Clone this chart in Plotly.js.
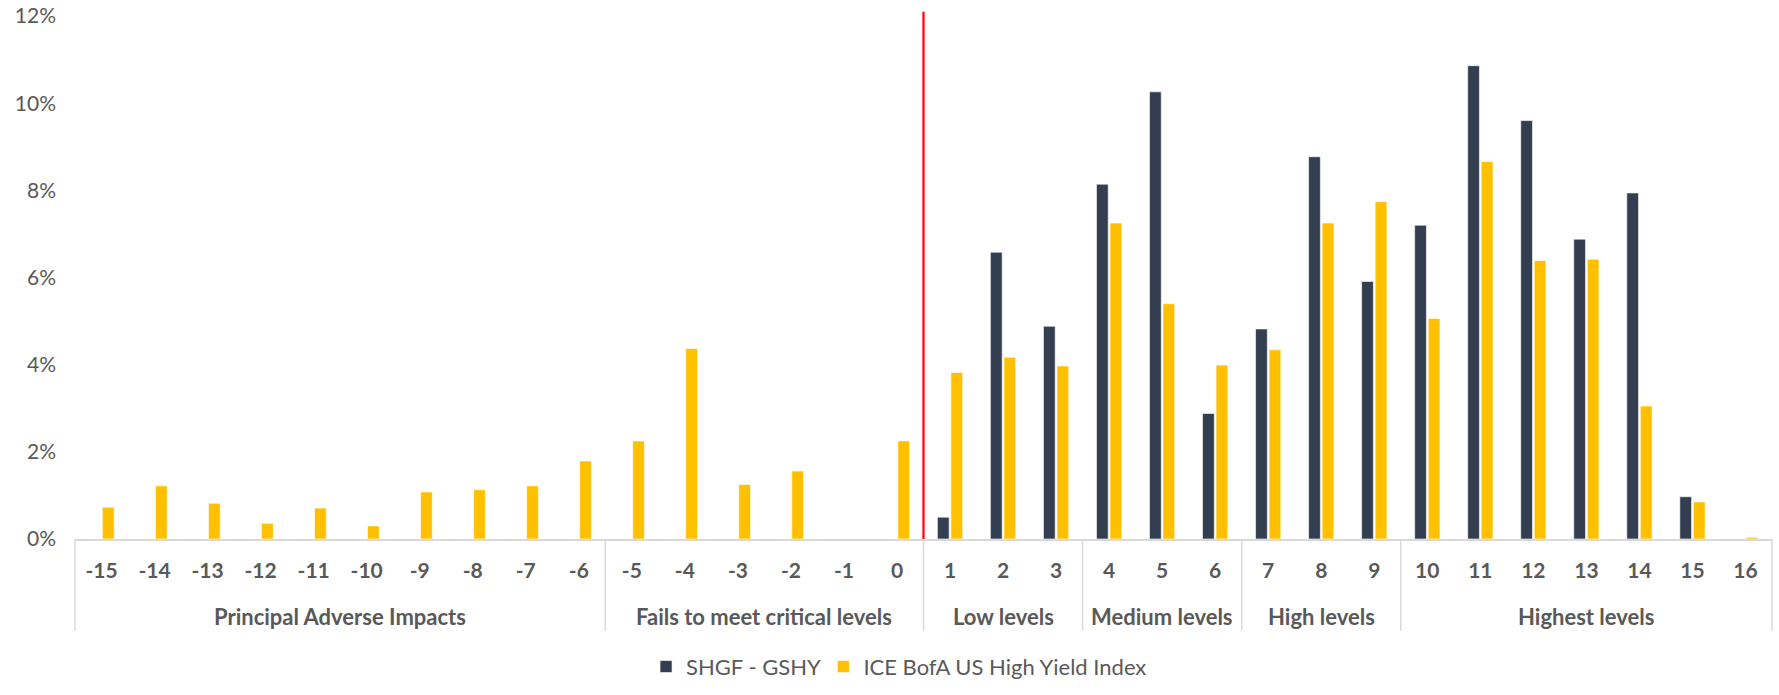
<!DOCTYPE html>
<html>
<head>
<meta charset="utf-8">
<script src="https://cdn.plot.ly/plotly-3.0.1.min.js"></script>
<style>
  html, body { margin: 0; padding: 0; background: #ffffff; }
  #chart { width: 1779px; height: 695px; }
</style>
</head>
<body>
<div id="chart"></div>
<script>
// Category labels (score levels)
const categories = ['-15','-14','-13','-12','-11','-10','-9','-8','-7','-6',
                    '-5','-4','-3','-2','-1','0',
                    '1','2','3','4','5','6','7','8','9',
                    '10','11','12','13','14','15','16'];

// Group labels and how many categories each spans
const groupNames = ['Principal Adverse Impacts', 'Fails to meet critical levels',
                    'Low levels', 'Medium levels', 'High levels', 'Highest levels'];
const groupSizes = [10, 6, 3, 3, 3, 7];

// Series values (%)
const shgfGshy = [null, null, null, null, null, null, null, null, null, null,
                  null, null, null, null, null, null,
                  0.50, 6.58, 4.88, 8.14, 10.26, 2.88, 4.82, 8.77, 5.91,
                  7.20, 10.86, 9.60, 6.88, 7.94, 0.97, null];
const iceBofa  = [0.73, 1.22, 0.82, 0.36, 0.71, 0.30, 1.08, 1.13, 1.22, 1.79,
                  2.25, 4.37, 1.25, 1.56, null, 2.25,
                  3.82, 4.17, 3.97, 7.25, 5.40, 3.99, 4.34, 7.25, 7.74,
                  5.06, 8.66, 6.39, 6.42, 3.05, 0.85, 0.04];

const seriesNames = ['SHGF - GSHY', 'ICE BofA US High Yield Index'];
const yTicks = [0, 2, 4, 6, 8, 10, 12];
const thresholdCategory = '1';

const FONT = 'Lato, "Open Sans", sans-serif';
const TXT = '#595959';
const AXIS_GREY = '#d9d9d9';

const traces = [
  {
    type: 'bar', name: seriesNames[0], legend: 'legend',
    x: categories, y: shgfGshy,
    marker: { color: '#333f50', line: { color: 'rgba(255,255,255,0.8)', width: 0.75 } },
    hoverinfo: 'y'
  },
  {
    type: 'bar', name: seriesNames[1], legend: 'legend2',
    x: categories, y: iceBofa,
    marker: { color: '#ffc000', line: { color: 'rgba(255,255,255,0.8)', width: 0.75 } },
    hoverinfo: 'y'
  }
];

// Group boundaries, label positions (in category index units) and dividers
const annotations = [];
const shapes = [];
const nCat = categories.length;
const dividerBottom = -0.1754;
const groupLabelY = -0.1475;
let start = 0;
shapes.push({
  type: 'line', xref: 'paper', yref: 'paper', x0: 0, x1: 0, y0: 0, y1: dividerBottom,
  line: { color: AXIS_GREY, width: 1.5 }
});
groupNames.forEach((g, i) => {
  const end = start + groupSizes[i];
  annotations.push({
    xref: 'x', yref: 'paper', x: start + (groupSizes[i] - 1) / 2, y: groupLabelY,
    xanchor: 'center', yanchor: 'middle', showarrow: false, text: g,
    font: { family: FONT, size: 22, color: TXT, weight: 'bold' }
  });
  shapes.push({
    type: 'line', xref: 'paper', yref: 'paper', x0: end / nCat, x1: end / nCat,
    y0: 0, y1: dividerBottom, line: { color: AXIS_GREY, width: 1.5 }
  });
  start = end;
});

const thresholdPos = categories.indexOf(thresholdCategory) - 0.5;
shapes.push({
  type: 'line', xref: 'x', yref: 'paper',
  x0: thresholdPos, x1: thresholdPos, y0: 0, y1: 1.008,
  line: { color: '#ff0000', width: 2.2 }
});

const legendStyle = {
  orientation: 'h', xanchor: 'left', y: -0.2443, yanchor: 'middle',
  font: { family: FONT, size: 22, color: TXT }, bgcolor: 'rgba(0,0,0,0)'
};

const layout = {
  width: 1779, height: 695,
  paper_bgcolor: '#ffffff', plot_bgcolor: '#ffffff',
  margin: { l: 75, r: 7, t: 16, b: 142 },
  font: { family: FONT, color: TXT, size: 20 },
  barmode: 'group',
  bargap: 0.49,
  bargroupgap: 0.13,
  showlegend: true,
  legend: Object.assign({}, legendStyle, { x: 0.3365 }),
  legend2: Object.assign({}, legendStyle, { x: 0.441 }),
  xaxis: {
    type: 'category',
    showline: true, linecolor: AXIS_GREY, linewidth: 1.5,
    tickfont: { family: FONT, size: 21, color: TXT, weight: 'bold' },
    ticklabelstandoff: 12,
    showgrid: false, zeroline: false, ticks: ''
  },
  yaxis: {
    range: [0, 12],
    tickvals: yTicks,
    ticktext: yTicks.map(v => v + '%'),
    showgrid: false, zeroline: false, showline: false, ticks: '',
    ticklabelstandoff: 18,
    tickfont: { family: FONT, size: 21, color: TXT }
  },
  annotations: annotations,
  shapes: shapes
};

Plotly.newPlot('chart', traces, layout, { displayModeBar: false, staticPlot: true });
</script>
</body>
</html>
